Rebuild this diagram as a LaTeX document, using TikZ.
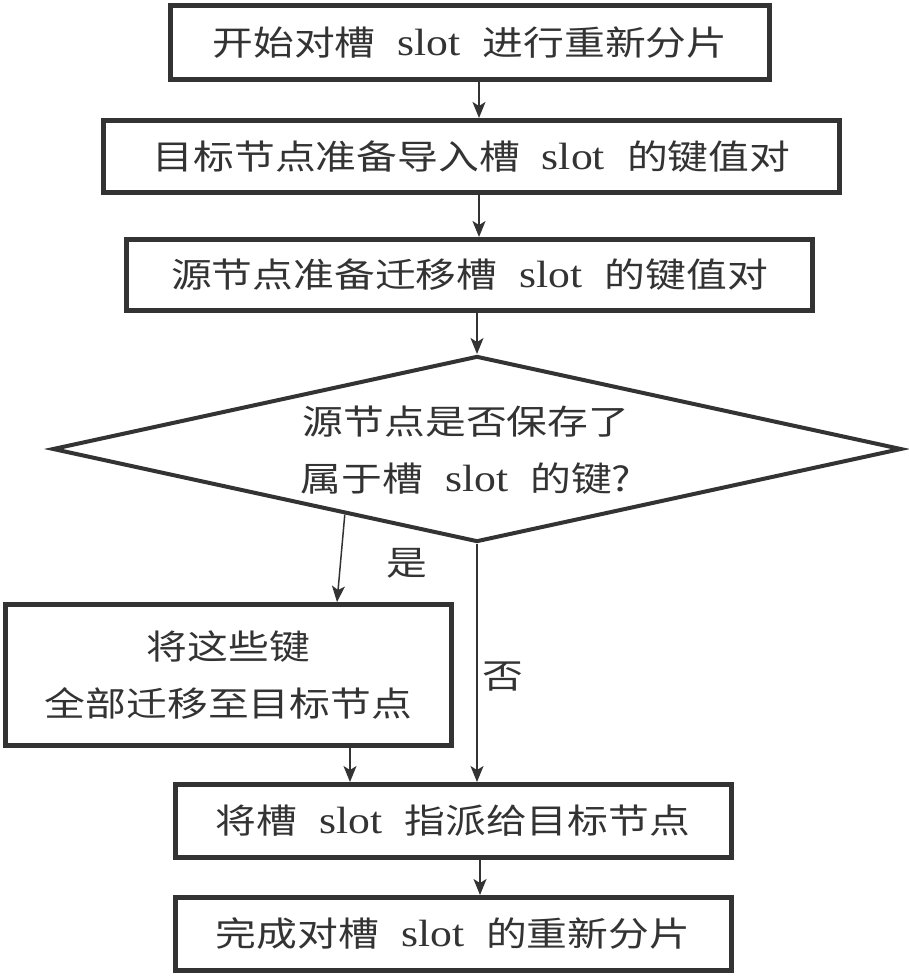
\documentclass[tikz,border=0pt]{standalone}
\usepackage{fontspec}
\setmainfont{Liberation Serif}[FakeStretch=1.15]
\newfontfamily\cjk{Noto Sans CJK SC}[FakeStretch=1.2]
\usetikzlibrary{arrows.meta,shapes.geometric,calc}
\newcommand\slt{\hspace{22pt}{\rmfamily\fontsize{38}{57}\selectfont slot}\hspace{22pt}}
\tikzset{
  txt/.style={font=\cjk\fontsize{34}{57}\selectfont, text=black!80, align=center, inner sep=0pt},
  box/.style={txt, draw=black!80, line width=5pt, fill=white},
  arr/.style={draw=black!80, line width=1.5pt, -{Stealth[length=16pt,width=13pt,inset=4pt]}},
}
\begin{document}
\begin{tikzpicture}[x=1pt,y=-1pt]
\fill[white] (0,0) rectangle (908,976);
\useasboundingbox (0,0) rectangle (908,976);
\node[box, minimum width=599pt, minimum height=74pt] (b1) at (470,42.5) {开始对槽\slt 进行重新分片};
\node[box, minimum width=736pt, minimum height=72pt] (b2) at (471.5,156.5) {目标节点准备导入槽\slt 的键值对};
\node[box, minimum width=686pt, minimum height=71pt] (b3) at (469.5,275) {源节点准备迁移槽\slt 的键值对};
\node[draw=black!80, line width=4pt, diamond, aspect=4.5, minimum width=849pt, minimum height=186pt, inner sep=0pt] (d) at (477,449) {};
\node[txt] (dt) at (466,450) {源节点是否保存了\\属于槽\slt 的键?};
\node[box, minimum width=446pt, minimum height=141pt] (b4) at (228.5,675) {将这些键\\全部迁移至目标节点};
\node[box, minimum width=556pt, minimum height=73pt] (b5) at (453,821) {将槽\slt 指派给目标节点};
\node[box, minimum width=556pt, minimum height=73pt] (b6) at (453,934) {完成对槽\slt 的重新分片};
\node[txt] (yes) at (407,563) {是};
\node[txt] (no) at (503,677) {否};
\draw[arr] ([xshift=9pt]b1.south) -- ([xshift=9pt]b1.south |- b2.north);
\draw[arr] ([xshift=7.5pt]b2.south) -- ([xshift=7.5pt]b2.south |- b3.north);
\draw[arr] (b3.south -| d.north) -- (d.north);
\draw[arr] ($(d.west)!0.69!(d.south)$) -- ([xshift=108.5pt]b4.north);
\draw[arr] (d.south) -- (d.south |- b5.north);
\draw[arr] ([xshift=121.5pt]b4.south) -- ([xshift=121.5pt]b4.south |- b5.north);
\draw[arr] ([xshift=27pt]b5.south) -- ([xshift=27pt]b5.south |- b6.north);
\end{tikzpicture}
\end{document}
